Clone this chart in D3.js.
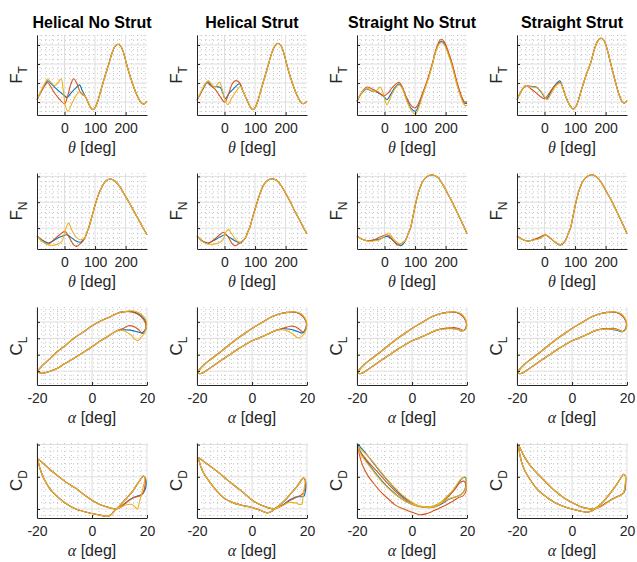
<!DOCTYPE html>
<html>
<head>
<meta charset="utf-8">
<script src="https://cdn.jsdelivr.net/npm/d3@7"></script>
<style>
  body { margin: 0; background: #fff; }
  svg { display: block; }
  text { font-family: "Liberation Sans", Arial, Helvetica, sans-serif; fill: #262626; }
</style>
</head>
<body>
<svg id="chart" width="637" height="562"></svg>
<script>
// ---- labels and ticks ----
const columnTitles = ["Helical No Strut", "Helical Strut", "Straight No Strut", "Straight Strut"];
const thetaTicks = [0, 100, 200];
const alphaTicks = [-20, 0, 20];
const seriesColors = ["#0072BD", "#D95319", "#EDB120"];

// ---- tangential force vs azimuth [theta, F_T] ----
const ftHelicalNoStrut = {
  shared: [[68,0.3],[78,-0.05],[86,-0.3],[93,-0.4],[100,-0.3],[108,0.0],[117,0.5],[126,1.0],[135,1.5],[145,2.0],[155,2.55],[165,2.92],[175,3.04],[185,2.92],[194,2.55],[203,2.0],[212,1.5],[222,1.0],[232,0.55],[242,0.2],[252,-0.05],[260,-0.1],[270,0.05]],
  blue:   [[-90,0.12],[-75,0.6],[-62,0.95],[-55,1.12],[-40,0.9],[-20,0.6],[0,0.33],[8,0.24],[20,0.45],[35,0.7],[49,0.9],[58,0.6]],
  red:    [[-90,0.12],[-75,0.58],[-62,0.92],[-55,1.03],[-45,0.8],[-30,0.42],[-15,0.12],[0,-0.09],[10,0.3],[20,0.9],[30,1.22],[40,1.0],[52,0.5],[60,0.38]],
  yellow: [[-90,0.12],[-75,0.65],[-62,1.05],[-55,1.22],[-45,1.05],[-31,0.86],[-20,1.05],[-11,1.22],[-4,0.6],[3,-0.2],[11,-0.49],[25,-0.05],[38,0.35],[50,0.56],[60,0.42]]
};
const ftHelicalStrut = {
  shared: [[68,0.3],[78,-0.05],[86,-0.3],[93,-0.4],[100,-0.3],[108,0.0],[117,0.5],[126,1.0],[135,1.5],[145,2.05],[155,2.6],[165,2.95],[175,3.09],[185,2.96],[194,2.58],[203,2.02],[212,1.5],[222,1.0],[232,0.55],[242,0.2],[252,-0.05],[260,-0.08],[270,0.05]],
  blue:   [[-90,0.09],[-75,0.55],[-62,0.92],[-55,1.08],[-45,0.92],[-36,0.82],[-25,0.8],[-14,0.77],[-5,0.45],[2,0.17],[15,0.45],[30,0.7],[49,0.96],[58,0.65]],
  red:    [[-90,0.09],[-75,0.55],[-65,0.9],[-58,1.03],[-45,0.85],[-31,0.68],[-15,0.3],[-3,0.03],[2,0.0],[15,0.5],[25,0.95],[35,1.12],[45,1.08],[52,0.95],[60,0.6]],
  yellow: [[-90,0.09],[-75,0.6],[-62,0.98],[-52,1.12],[-42,0.92],[-31,0.79],[-22,0.95],[-16,1.05],[-8,0.7],[2,0.1],[11,-0.14],[25,0.25],[40,0.6],[52,0.82],[60,0.6]]
};
const ftStraightNoStrut = {
  shared: [],
  blue:   [[-90,0.03],[-75,0.45],[-58,0.68],[-45,0.6],[-31,0.56],[-15,0.43],[-3,0.3],[8,0.12],[20,0.4],[35,0.78],[48,0.94],[58,0.75],[72,0.15],[88,-0.35],[101,-0.49],[112,-0.2],[124,0.35],[137,0.95],[147,1.45],[156,1.95],[170,2.78],[180,3.12],[187,3.18],[196,3.05],[210,2.5],[222,1.92],[238,0.92],[250,0.32],[260,-0.05],[266,-0.08],[270,-0.04]],
  red:    [[-90,0.03],[-75,0.5],[-58,0.79],[-40,0.68],[-20,0.5],[-3,0.32],[10,0.45],[25,0.75],[40,0.98],[48,1.03],[58,0.8],[72,0.25],[88,-0.2],[101,-0.31],[112,-0.05],[124,0.45],[137,1.0],[147,1.5],[156,2.0],[170,2.85],[180,3.22],[187,3.3],[196,3.15],[210,2.6],[222,2.0],[238,1.0],[250,0.4],[260,0.03],[266,-0.02],[270,0.03]],
  yellow: [[-90,0.03],[-75,0.48],[-58,0.73],[-45,0.62],[-31,0.56],[-20,0.7],[-14,0.79],[-5,0.5],[3,0.0],[8,-0.14],[20,0.25],[35,0.72],[48,0.91],[58,0.72],[72,0.1],[88,-0.45],[101,-0.63],[112,-0.3],[124,0.3],[137,0.9],[147,1.4],[156,1.92],[170,2.75],[180,3.07],[187,3.12],[196,3.0],[210,2.45],[222,1.85],[238,0.85],[250,0.25],[260,-0.12],[266,-0.19],[270,-0.15]]
};
const ftStraightStrut = {
  shared: [[58,0.85],[68,0.35],[80,-0.1],[94,-0.37],[104,-0.2],[112,0.15],[120,0.6],[128,1.0],[138,1.5],[150,2.0],[162,2.7],[172,3.15],[183,3.35],[192,3.3],[200,3.05],[208,2.6],[217,2.0],[225,1.5],[233,1.0],[244,0.4],[255,0.0],[262,-0.05],[270,0.07]],
  blue:   [[-90,0.12],[-75,0.6],[-61,0.86],[-45,0.82],[-27,0.79],[-10,0.5],[6,0.16],[20,0.5],[35,0.9],[50,1.12]],
  red:    [[-90,0.12],[-75,0.6],[-61,0.87],[-45,0.7],[-25,0.45],[-10,0.25],[0,0.17],[15,0.45],[30,0.8],[42,0.98],[50,1.03]],
  yellow: [[-90,0.12],[-75,0.6],[-61,0.86],[-45,0.8],[-22,0.73],[-8,0.5],[9,0.12],[22,0.45],[38,0.85],[52,1.0]]
};

// ---- normal force vs azimuth [theta, F_N] ----
const fnHelicalNoStrut = {
  shared: [[68,-0.35],[74,-0.15],[79,0.0],[90,0.45],[103,1.0],[113,1.35],[123,1.61],[135,1.82],[150,1.9],[165,1.82],[180,1.62],[195,1.32],[211,1.0],[225,0.7],[240,0.38],[255,0.05],[270,-0.26]],
  blue:   [[-90,-0.3],[-75,-0.45],[-53,-0.58],[-35,-0.48],[-15,-0.35],[8,-0.26],[20,-0.35],[35,-0.48],[52,-0.55],[62,-0.45]],
  red:    [[-90,-0.3],[-75,-0.48],[-53,-0.62],[-35,-0.45],[-15,-0.25],[2,-0.13],[15,-0.35],[30,-0.65],[40,-0.71],[52,-0.6],[62,-0.48]],
  yellow: [[-90,-0.3],[-75,-0.5],[-53,-0.65],[-35,-0.66],[-20,-0.62],[-8,-0.5],[2,-0.1],[13,0.19],[25,-0.1],[40,-0.38],[52,-0.45],[62,-0.42]]
};
const fnHelicalStrut = {
  shared: [[70,-0.35],[76,-0.15],[82,0.0],[94,0.5],[107,1.0],[118,1.4],[130,1.7],[143,1.86],[156,1.91],[170,1.85],[185,1.65],[200,1.35],[216,1.0],[230,0.65],[245,0.33],[258,0.02],[270,-0.22]],
  blue:   [[-90,-0.3],[-75,-0.48],[-55,-0.58],[-35,-0.48],[-15,-0.35],[2,-0.26],[15,-0.35],[35,-0.5],[52,-0.58],[62,-0.48]],
  red:    [[-90,-0.3],[-75,-0.48],[-55,-0.6],[-35,-0.45],[-15,-0.25],[-3,-0.17],[10,-0.3],[25,-0.6],[35,-0.68],[48,-0.6],[60,-0.48]],
  yellow: [[-90,-0.3],[-75,-0.5],[-55,-0.62],[-35,-0.62],[-20,-0.58],[-5,-0.45],[5,-0.15],[13,-0.06],[25,-0.25],[40,-0.48],[52,-0.55],[62,-0.47]]
};
const fnStraightNoStrut = {
  shared: [[70,-0.45],[78,-0.2],[85,0.0],[94,0.5],[103,1.0],[113,1.45],[125,1.8],[140,2.0],[158,2.05],[175,1.95],[190,1.7],[206,1.35],[222,1.0],[238,0.6],[250,0.3],[262,0.0],[270,-0.22]],
  blue:   [[-90,-0.3],[-75,-0.42],[-55,-0.49],[-35,-0.47],[-15,-0.42],[8,-0.32],[20,-0.4],[35,-0.55],[52,-0.68],[62,-0.6]],
  red:    [[-90,-0.3],[-75,-0.42],[-55,-0.49],[-35,-0.45],[-15,-0.35],[5,-0.26],[15,-0.3],[30,-0.5],[42,-0.65],[52,-0.62],[62,-0.55]],
  yellow: [[-90,-0.3],[-75,-0.42],[-55,-0.5],[-35,-0.5],[-15,-0.45],[2,-0.3],[13,-0.19],[25,-0.35],[40,-0.55],[52,-0.62],[62,-0.55]]
};
const fnStraightStrut = {
  shared: [[70,-0.45],[78,-0.2],[85,0.0],[94,0.5],[103,1.0],[113,1.45],[125,1.8],[140,2.0],[156,2.06],[172,1.96],[188,1.72],[205,1.36],[222,1.0],[238,0.6],[250,0.3],[262,0.0],[270,-0.22]],
  blue:   [[-90,-0.3],[-75,-0.42],[-55,-0.5],[-35,-0.45],[-15,-0.38],[5,-0.28],[18,-0.38],[35,-0.55],[52,-0.66],[62,-0.58]],
  red:    [[-90,-0.3],[-75,-0.42],[-55,-0.5],[-35,-0.44],[-15,-0.35],[2,-0.26],[15,-0.35],[35,-0.55],[52,-0.64],[62,-0.57]],
  yellow: [[-90,-0.3],[-75,-0.42],[-55,-0.5],[-35,-0.46],[-15,-0.4],[5,-0.27],[18,-0.36],[35,-0.55],[52,-0.65],[62,-0.57]]
};

// ---- lift coefficient vs angle of attack [alpha, C_L] ----
const clHelicalNoStrut = {
  shared: [[9.7,2.5],[7.5,2.3],[5.5,2.09],[2.5,1.78],[0,1.48],[-3.5,1.1],[-6.7,0.77],[-10,0.45],[-12.7,0.16],[-15.5,-0.02],[-18.2,-0.14],[-19.6,0.0],[-18.8,0.2],[-17.6,0.41],[-15,0.8],[-12.7,1.18],[-10,1.52],[-6.7,1.99],[-3,2.4],[0,2.76],[3.3,3.07],[6.7,3.31],[9.5,3.55],[12,3.63]],
  blue:   [[14.5,3.63],[16.8,3.5],[18.6,3.25],[19.7,2.95],[19.6,2.65],[18.8,2.4],[17.8,2.33],[16,2.42],[13.9,2.5],[11.7,2.52]],
  red:    [[14.5,3.6],[16.8,3.45],[18.5,3.2],[19.5,2.9],[19.7,2.6],[19.1,2.35],[18.3,2.3],[16.8,2.55],[15.2,2.72],[13.3,2.77],[11.5,2.62]],
  yellow: [[14.8,3.68],[17.2,3.55],[19,3.3],[19.9,2.95],[19.7,2.6],[18.8,2.25],[17.5,2.0],[16.6,1.86],[15.6,1.95],[13.9,2.25],[11.7,2.45]]
};
const clHelicalStrut = {
  shared: [[9,2.5],[5,2.2],[2,1.98],[0,1.85],[-4,1.45],[-9,0.9],[-13,0.45],[-16,0.1],[-18,-0.12],[-19.3,-0.15],[-19.7,-0.05],[-18.8,0.15],[-17,0.45],[-15,0.72],[-12,1.1],[-9,1.5],[-6,1.9],[-3,2.25],[0,2.6],[3.5,2.95],[7,3.3],[10.3,3.5],[13,3.58]],
  blue:   [[15.5,3.6],[17.5,3.5],[19,3.25],[19.8,2.95],[19.5,2.6],[18.4,2.33],[16.5,2.42],[14,2.55],[11.5,2.58]],
  red:    [[15.5,3.6],[17.5,3.48],[19,3.22],[19.8,2.9],[19.6,2.55],[18.6,2.38],[17.2,2.55],[15.5,2.72],[13.9,2.74],[11.5,2.62]],
  yellow: [[15.5,3.62],[17.6,3.52],[19.1,3.28],[19.9,2.95],[19.7,2.55],[18.6,2.2],[17.5,2.05],[16.4,2.05],[15,2.25],[13,2.45],[11,2.52]]
};
const clStraightNoStrut = {
  shared: [[9,2.5],[5,2.2],[2,1.98],[0,1.85],[-4,1.45],[-9,0.9],[-13,0.45],[-16,0.1],[-18,-0.12],[-19.3,-0.15],[-19.7,-0.05],[-18.8,0.15],[-17,0.45],[-15,0.72],[-12,1.1],[-9,1.5],[-6,1.9],[-3,2.25],[0,2.6],[3.5,2.95],[7,3.3],[10.3,3.5],[13,3.58]],
  blue:   [[15.5,3.6],[17.5,3.5],[19,3.25],[19.8,2.95],[19.5,2.6],[18.4,2.45],[16.5,2.55],[14,2.6],[11.5,2.58]],
  red:    [[15.5,3.6],[17.5,3.48],[19,3.22],[19.8,2.9],[19.6,2.6],[18.6,2.48],[17.2,2.58],[15.5,2.65],[13.9,2.64],[11.5,2.6]],
  yellow: [[15.5,3.62],[17.6,3.52],[19.1,3.28],[19.9,2.95],[19.7,2.6],[18.6,2.45],[17.5,2.5],[16.4,2.55],[15,2.58],[13,2.58],[11,2.55]]
};
const clStraightStrut = {
  shared: [[9,2.5],[5,2.2],[2,1.98],[0,1.85],[-4,1.45],[-9,0.9],[-13,0.45],[-16,0.1],[-18,-0.12],[-19.3,-0.15],[-19.7,-0.05],[-18.8,0.15],[-17,0.45],[-15,0.72],[-12,1.1],[-9,1.5],[-6,1.9],[-3,2.25],[0,2.6],[3.5,2.95],[7,3.3],[10.3,3.5],[13,3.58]],
  blue:   [[15.5,3.6],[17.5,3.5],[19,3.25],[19.8,2.95],[19.5,2.6],[18.4,2.4],[16.5,2.48],[14,2.56],[11.5,2.56]],
  red:    [[15.5,3.6],[17.5,3.48],[19,3.22],[19.8,2.9],[19.6,2.58],[18.6,2.42],[17.2,2.5],[15.5,2.6],[13.9,2.6],[11.5,2.58]],
  yellow: [[15.5,3.62],[17.6,3.52],[19.1,3.28],[19.9,2.95],[19.7,2.58],[18.6,2.4],[17.5,2.46],[16.4,2.52],[15,2.56],[13,2.56],[11,2.54]]
};

// ---- drag coefficient vs angle of attack [alpha, C_D] ----
const cdHelicalNoStrut = {
  shared: [[8.5,0.0],[6,0.05],[3,0.13],[0,0.27],[-3,0.45],[-6,0.65],[-9.1,0.81],[-12,1.0],[-15.2,1.22],[-17.5,1.4],[-19.1,1.52],[-19.6,1.55],[-19.2,1.35],[-18.5,1.15],[-17.6,0.96],[-15.5,0.65],[-12.7,0.39],[-10,0.2],[-6.7,0.03],[-3,-0.08],[0,-0.14],[3,-0.19],[5.5,-0.23],[7,-0.17],[8.5,-0.03],[10,0.1],[11.5,0.24],[13.5,0.42],[15.2,0.6],[16.5,0.78],[17.6,0.91],[18.6,1.02]],
  blue:   [[19.3,0.98],[19.7,0.8],[19.3,0.6],[18.3,0.46],[16.5,0.4],[14,0.3],[12,0.17],[10,0.04]],
  red:    [[19.2,0.98],[19.3,0.75],[18.6,0.5],[17.4,0.4],[15.5,0.37],[13.5,0.27],[11.5,0.14],[10,0.04]],
  yellow: [[19.2,0.98],[18.8,0.75],[18,0.45],[17.2,0.2],[16.5,0.0],[15.8,0.05],[14.5,0.14],[12.5,0.13],[10.5,0.06]]
};
const cdHelicalStrut = {
  shared: [[8,0.0],[5.5,0.05],[3,0.13],[0,0.28],[-3,0.5],[-6,0.7],[-9.1,0.91],[-12,1.12],[-15.2,1.33],[-17.5,1.47],[-19.4,1.59],[-19,1.42],[-18.3,1.25],[-17.6,1.12],[-15.5,0.85],[-12.7,0.55],[-10,0.33],[-6.7,0.19],[-3,0.1],[-0.6,0.06],[3,-0.04],[5.5,-0.12],[7,-0.08],[8.5,0.02],[10.5,0.15],[12.7,0.34],[14.5,0.52],[16.4,0.7],[17.8,0.88],[18.7,0.96]],
  blue:   [[19.4,0.9],[19.6,0.7],[19.3,0.5],[18.8,0.39],[17.5,0.38],[15.8,0.37],[13.5,0.27],[11.5,0.14],[9.8,0.06]],
  red:    [[19.3,0.9],[19.3,0.68],[18.7,0.5],[17.6,0.42],[15.8,0.35],[13.5,0.25],[11.5,0.13],[9.8,0.06]],
  yellow: [[19.3,0.92],[19.0,0.65],[18.5,0.35],[18.2,0.15],[17.2,0.14],[15.8,0.19],[13.5,0.2],[11.5,0.12],[9.8,0.05]]
};
const cdStraightNoStrut = {
  shared: [],
  blue:   [[-19.6,2.0],[-18.8,1.79],[-17,1.55],[-15.2,1.33],[-12,0.98],[-9.1,0.7],[-6.5,0.5],[-4.2,0.34],[-1.5,0.2],[0.6,0.13],[3,0.08],[6,0.04],[8.5,0.07],[11,0.17],[13.5,0.3],[16,0.38],[17.8,0.45],[19.2,0.6],[19.7,0.82],[19.4,0.98],[18.5,0.97],[17.5,0.88],[15.5,0.63],[13,0.4],[10.5,0.2],[8,0.09],[5.5,0.06],[3,0.08],[0.5,0.16],[-2,0.3],[-5,0.52],[-8,0.8],[-11,1.1],[-14,1.42],[-16.5,1.7],[-18.5,1.9]],
  red:    [[-19.4,1.84],[-18.8,1.58],[-17.8,1.32],[-16,1.03],[-14,0.8],[-11,0.5],[-9.1,0.35],[-6,0.12],[-3,0.0],[0,-0.1],[3,-0.18],[5.5,-0.14],[8,-0.05],[10.5,0.05],[12.7,0.14],[15,0.25],[16.8,0.35],[18.4,0.4],[19.6,0.55],[19.5,0.75],[19.0,0.86],[17.6,0.83],[15.5,0.6],[12.7,0.34],[10.3,0.17],[8,0.08],[5.5,0.05],[3,0.07],[0,0.15],[-3,0.32],[-6,0.55],[-9.1,0.82],[-12,1.1],[-15,1.38],[-17.5,1.62],[-18.8,1.76]],
  yellow: [[-19.4,1.93],[-18.8,1.72],[-17,1.5],[-15.2,1.3],[-12,0.95],[-9.1,0.68],[-6.5,0.48],[-4,0.33],[-1.5,0.2],[1,0.12],[3.5,0.07],[6,0.05],[8.5,0.08],[11,0.2],[13.5,0.32],[16,0.38],[17.8,0.45],[19.3,0.6],[19.8,0.85],[19.4,1.0],[18.5,0.98],[17.4,0.9],[15.2,0.62],[12.7,0.38],[10.3,0.2],[8,0.1],[5.5,0.07],[3,0.09],[0.5,0.18],[-2,0.33],[-5,0.55],[-8,0.82],[-11,1.12],[-14,1.45],[-16.5,1.68],[-18.5,1.85]]
};
const cdStraightStrut = {
  shared: [[8,0.0],[5.5,0.02],[3,0.08],[0,0.2],[-3,0.35],[-6,0.55],[-9.1,0.8],[-12,1.05],[-15.2,1.35],[-17.5,1.65],[-19.4,1.97],[-19,1.7],[-18.3,1.45],[-17.2,1.2],[-15.5,0.95],[-12.7,0.62],[-10,0.42],[-6.7,0.22],[-3,0.08],[0,0.0],[3,-0.06],[5.5,-0.1],[7,-0.06],[8.5,0.02],[10.5,0.15],[12.7,0.36],[14.5,0.56],[16.4,0.78],[17.8,0.97],[18.8,1.08]],
  blue:   [[19.4,1.03],[19.5,0.78],[19,0.52],[17.6,0.42],[15.8,0.36],[13.5,0.25],[11.5,0.13],[9.8,0.05]],
  red:    [[19.4,1.03],[19.4,0.76],[18.8,0.52],[17.6,0.43],[15.8,0.36],[13.5,0.25],[11.5,0.13],[9.8,0.05]],
  yellow: [[19.4,1.04],[19.3,0.76],[18.7,0.5],[17.5,0.41],[15.8,0.35],[13.5,0.24],[11.5,0.12],[9.8,0.05]]
};

// ---- layout ----
const colLeft = [37, 197, 357, 517];
const plotW = 110;
const rows = [
  { top: 35,  bottom: 115, xDomain: [-90, 270], xTicks: thetaTicks, xMinor: 20, yDomain: [-0.684, 3.526], yTicks: [0,1,2,3], yMinor: 0.25, sym: "θ", ylab: ["F","T"], loop: false,
    data: [ftHelicalNoStrut, ftHelicalStrut, ftStraightNoStrut, ftStraightStrut] },
  { top: 173, bottom: 249, xDomain: [-90, 270], xTicks: thetaTicks, xMinor: 20, yDomain: [-0.81, 2.13], yTicks: [0,1,2], yMinor: 0.2, sym: "θ", ylab: ["F","N"], loop: false,
    data: [fnHelicalNoStrut, fnHelicalStrut, fnStraightNoStrut, fnStraightStrut] },
  { top: 307, bottom: 385, xDomain: [-20, 20], xTicks: alphaTicks, xMinor: 2.5, yDomain: [-0.85, 3.91], yTicks: [0,1,2,3], yMinor: 0.25, sym: "α", ylab: ["C","L"], loop: true,
    data: [clHelicalNoStrut, clHelicalStrut, clStraightNoStrut, clStraightStrut] },
  { top: 443, bottom: 518, xDomain: [-20, 20], xTicks: alphaTicks, xMinor: 2.5, yDomain: [-0.28, 2.05], yTicks: [0,1,2], yMinor: 0.2, sym: "α", ylab: ["C","D"], loop: true,
    data: [cdHelicalNoStrut, cdHelicalStrut, cdStraightNoStrut, cdStraightStrut] }
];

const svg = d3.select("#chart");
const defs = svg.append("defs");

function rangeSteps(lo, hi, step) {
  const out = [];
  const start = Math.ceil(lo / step - 1e-9) * step;
  for (let v = start; v <= hi + 1e-9; v += step) out.push(+v.toFixed(6));
  return out;
}

// column titles
columnTitles.forEach((t, c) => {
  svg.append("text")
    .attr("x", colLeft[c] + plotW / 2).attr("y", 28)
    .attr("text-anchor", "middle")
    .style("font-size", "16px").style("font-weight", "bold").style("fill", "#000")
    .text(t);
});

rows.forEach((row, r) => {
  row.data.forEach((panel, c) => {
    const x0 = colLeft[c];
    const x = d3.scaleLinear().domain(row.xDomain).range([x0, x0 + plotW]);
    const y = d3.scaleLinear().domain(row.yDomain).range([row.bottom, row.top]);
    const g = svg.append("g");

    // minor grid (dotted)
    const isMajorX = v => row.xTicks.some(t => Math.abs(t - v) < 1e-6);
    const isMajorY = v => row.yTicks.some(t => Math.abs(t - v) < 1e-6);
    const minorX = rangeSteps(row.xDomain[0], row.xDomain[1], row.xMinor).filter(v => !isMajorX(v));
    const minorY = rangeSteps(row.yDomain[0], row.yDomain[1], row.yMinor).filter(v => !isMajorY(v));
    g.selectAll(".mx").data(minorX).join("line")
      .attr("x1", d => x(d)).attr("x2", d => x(d))
      .attr("y1", row.top).attr("y2", row.bottom)
      .attr("stroke", "#b8b8b8").attr("stroke-width", 0.8).attr("stroke-dasharray", "1,3");
    g.selectAll(".my").data(minorY).join("line")
      .attr("x1", x0).attr("x2", x0 + plotW)
      .attr("y1", d => y(d)).attr("y2", d => y(d))
      .attr("stroke", "#b8b8b8").attr("stroke-width", 0.8).attr("stroke-dasharray", "1,3");

    // major grid
    g.selectAll(".gx").data(row.xTicks).join("line")
      .attr("x1", d => x(d)).attr("x2", d => x(d))
      .attr("y1", row.top).attr("y2", row.bottom)
      .attr("stroke", "#dedede").attr("stroke-width", 1);
    g.selectAll(".gy").data(row.yTicks).join("line")
      .attr("x1", x0).attr("x2", x0 + plotW)
      .attr("y1", d => y(d)).attr("y2", d => y(d))
      .attr("stroke", "#dedede").attr("stroke-width", 1);

    // curves
    const clipId = `clip-${r}-${c}`;
    defs.append("clipPath").attr("id", clipId).append("rect")
      .attr("x", x0 - 1).attr("y", row.top - 1).attr("width", plotW + 2).attr("height", row.bottom - row.top + 2);
    const line = d3.line()
      .x(d => x(d[0])).y(d => y(d[1]))
      .curve(row.loop ? d3.curveCatmullRomClosed.alpha(0.5) : d3.curveCatmullRom.alpha(0.5));
    const series = [panel.blue, panel.red, panel.yellow];
    const lg = g.append("g").attr("clip-path", `url(#${clipId})`);
    series.forEach((own, i) => {
      lg.append("path")
        .attr("d", line(own.concat(panel.shared)))
        .attr("fill", "none")
        .attr("stroke", seriesColors[i])
        .attr("stroke-width", 1.1)
        .attr("stroke-linejoin", "round");
    });

    // axes
    const xAxis = d3.axisBottom(x).tickValues(row.xTicks).tickSizeInner(-3).tickSizeOuter(0)
      .tickPadding(8).tickFormat(d => String(d));
    const ax = g.append("g").attr("transform", `translate(0,${row.bottom})`).call(xAxis);
    ax.select(".domain").attr("stroke", "#262626");
    ax.selectAll(".tick line").attr("stroke", "#262626");
    ax.selectAll(".tick text").style("font-size", "14px").style("font-family", "'Liberation Sans', Arial, sans-serif").attr("fill", "#262626");

    const yAxis = d3.axisLeft(y).tickValues(row.yTicks).tickSizeInner(-3).tickSizeOuter(0).tickFormat("");
    const ay = g.append("g").attr("transform", `translate(${x0},0)`).call(yAxis);
    ay.select(".domain").attr("stroke", "#262626");
    ay.selectAll(".tick line").attr("stroke", "#262626");

    // x label
    const xl = g.append("text")
      .attr("x", x0 + plotW / 2).attr("y", row.bottom + 38)
      .attr("text-anchor", "middle").style("font-size", "16px");
    xl.append("tspan").style("font-family", "'Liberation Serif', 'DejaVu Serif', serif").style("font-style", "italic").text(row.sym);
    xl.append("tspan").text(" [deg]");

    // y label with subscript
    const yc = (row.top + row.bottom) / 2;
    const yl = g.append("text")
      .attr("transform", `translate(${x0 - 15},${yc}) rotate(-90)`)
      .attr("text-anchor", "middle").style("font-size", "17px");
    yl.append("tspan").text(row.ylab[0]);
    yl.append("tspan").attr("dy", 5).style("font-size", "12px").text(row.ylab[1]);
  });
});
</script>
</body>
</html>
